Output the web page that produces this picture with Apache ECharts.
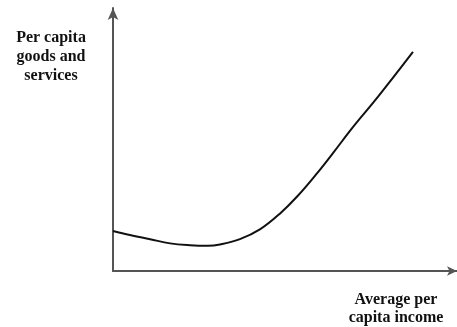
<!DOCTYPE html>
<html><head><meta charset="utf-8">
<script src="https://cdn.jsdelivr.net/npm/echarts@6/dist/echarts.min.js"></script>
<style>html,body{margin:0;padding:0;background:#fff}#c{width:457px;height:327px}</style>
</head><body><div id="c"></div>
<script>
const incomeX = [0, 4.9, 10.8, 16.6, 22.4, 27.6, 31.1, 36.9, 42.7, 48.5, 53.8, 59.6, 64.0, 69.8, 77.0, 87.2];
const goodsY = [15.2, 13.7, 12.1, 10.5, 9.8, 9.6, 10.1, 12.1, 15.8, 21.8, 28.7, 37.6, 44.9, 54.8, 66.2, 83.3];
const yLabel = "Per capita\ngoods and\nservices";
const xLabel = "Average per\ncapita income";

const chart = echarts.init(document.getElementById('c'), null, {renderer: 'canvas'});
const axisLineStyle = {color: '#555', width: 2};
chart.setOption({
  animation: false,
  grid: {left: 113, right: 0, top: 8, bottom: 56},
  xAxis: {type: 'value', min: 0, max: 100,
    axisLine: {show: true, lineStyle: axisLineStyle, symbol: ['none', 'arrow'], symbolSize: [7, 10]},
    axisTick: {show: false}, axisLabel: {show: false}, splitLine: {show: false}},
  yAxis: {type: 'value', min: 0, max: 100,
    axisLine: {show: true, lineStyle: axisLineStyle, symbol: ['none', 'arrow'], symbolSize: [8, 12]},
    axisTick: {show: false}, axisLabel: {show: false}, splitLine: {show: false}},
  series: [{type: 'line', smooth: 0.4, symbol: 'none',
    lineStyle: {color: '#111', width: 2},
    data: incomeX.map((x, i) => [x, goodsY[i]])}],
  graphic: [
    {type: 'text', x: 51, y: 28, style: {text: yLabel, align: 'center', verticalAlign: 'top',
      font: 'bold 16px "Liberation Serif", serif', lineHeight: 19, fill: '#111'}},
    {type: 'text', x: 396, y: 291, style: {text: xLabel, align: 'center', verticalAlign: 'top',
      font: 'bold 16px "Liberation Serif", serif', lineHeight: 18, fill: '#111'}}
  ]
});
</script></body></html>
